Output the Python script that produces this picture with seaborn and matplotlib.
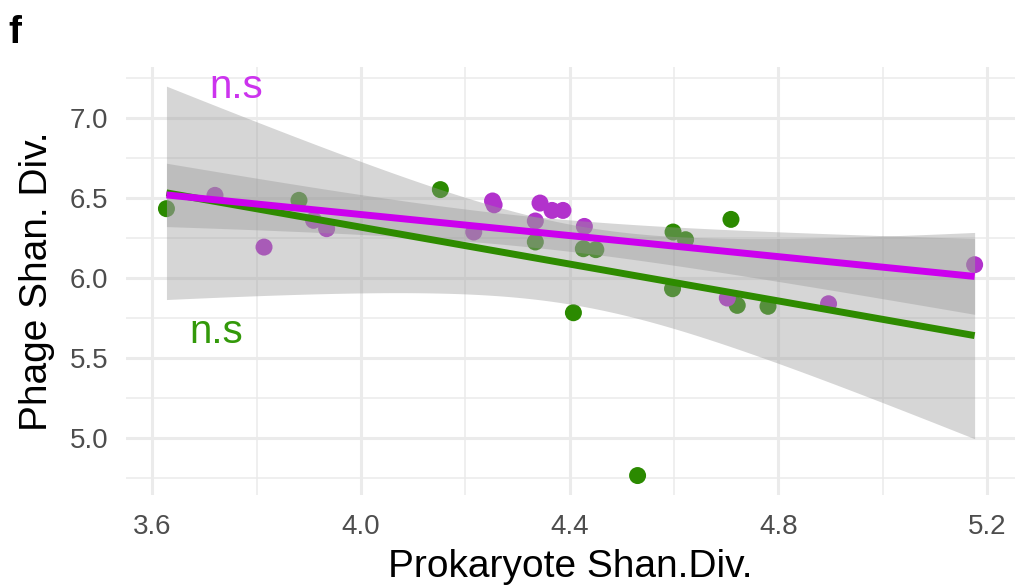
import math
import numpy as np
import pandas as pd
import matplotlib
matplotlib.use("Agg")
import matplotlib.pyplot as plt
import seaborn as sns

# Prokaryote vs phage Shannon diversity, two sample groups
green_x = [3.627, 3.881, 4.152, 4.334, 4.407, 4.426, 4.450, 4.530, 4.597,
           4.598, 4.622, 4.709, 4.721, 4.780]
green_y = [6.431, 6.483, 6.550, 6.223, 5.781, 6.181, 6.175, 4.764, 5.931,
           6.285, 6.237, 6.364, 5.827, 5.821]
purple_x = [3.720, 3.814, 3.909, 3.934, 4.216, 4.252, 4.255, 4.334, 4.343,
            4.366, 4.387, 4.428, 4.702, 4.896, 5.176]
purple_y = [6.514, 6.191, 6.358, 6.306, 6.285, 6.479, 6.455, 6.354, 6.466,
            6.420, 6.420, 6.320, 5.873, 5.837, 6.081]

x_ticks = [3.6, 4.0, 4.4, 4.8, 5.2]
y_ticks = [5.0, 5.5, 6.0, 6.5, 7.0]
sig_labels = ["n.s", "n.s"]

GREEN_LINE = "#2E8B00"
GREEN_PT = "#2B8A00"
PURPLE_LINE = "#CC00EE"
PURPLE_PT = "#B232CC"
GREEN_TXT = "#33990A"
PURPLE_TXT = "#CC33EE"

df = pd.DataFrame({
    "x": green_x + purple_x,
    "y": green_y + purple_y,
    "grp": ["g"] * len(green_x) + ["p"] * len(purple_x),
})


def t_quantile(p, dof):
    grid = np.linspace(0.0, 60.0, 300001)
    c = math.gamma((dof + 1) / 2) / (math.sqrt(dof * math.pi) * math.gamma(dof / 2))
    pdf = c * (1 + grid ** 2 / dof) ** (-(dof + 1) / 2)
    cdf = 0.5 + np.concatenate([[0.0], np.cumsum((pdf[1:] + pdf[:-1]) / 2 * np.diff(grid))])
    return float(np.interp(p, cdf, grid))


def lm_band(x, y, xs, level=0.95):
    x = np.asarray(x)
    y = np.asarray(y)
    n = len(x)
    slope, icpt = np.polyfit(x, y, 1)
    resid = y - (icpt + slope * x)
    sigma = math.sqrt(np.sum(resid ** 2) / (n - 2))
    sxx = np.sum((x - x.mean()) ** 2)
    se = sigma * np.sqrt(1 / n + (xs - x.mean()) ** 2 / sxx)
    t = t_quantile(0.5 + level / 2, n - 2)
    fit = icpt + slope * xs
    return fit, fit - t * se, fit + t * se


plt.rcParams["font.family"] = ["Liberation Sans", "DejaVu Sans"]

fig = plt.figure(figsize=(10.19, 5.87), dpi=100)
ax = fig.add_axes([0.1237, 0.1567, 0.8724, 0.7297])
ax.set_facecolor("white")

# full-range fits across the combined x range
xs = np.linspace(min(df["x"]), max(df["x"]), 200)
g_fit, g_lo, g_hi = lm_band(green_x, green_y, xs)
p_fit, p_lo, p_hi = lm_band(purple_x, purple_y, xs)

sns.scatterplot(data=df, x="x", y="y", hue="grp",
                palette={"g": GREEN_PT, "p": PURPLE_PT},
                s=150, linewidth=0, legend=False, ax=ax, zorder=2)

ax.fill_between(xs, g_lo, g_hi, color="#999999", alpha=0.4, linewidth=0, zorder=3)
ax.fill_between(xs, p_lo, p_hi, color="#999999", alpha=0.4, linewidth=0, zorder=3)
ax.plot(xs, g_fit, color=GREEN_LINE, linewidth=5, solid_capstyle="butt", zorder=4)
ax.plot(xs, p_fit, color=PURPLE_LINE, linewidth=5, solid_capstyle="butt", zorder=4)

# limits: data range plus 5% on each side
x0, x1 = min(df["x"]), max(df["x"])
ax.set_xlim(x0 - 0.05 * (x1 - x0), x1 + 0.05 * (x1 - x0))
y0 = min(min(df["y"]), g_lo.min(), p_lo.min())
y1 = max(max(df["y"]), g_hi.max(), p_hi.max())
ax.set_ylim(y0 - 0.05 * (y1 - y0), y1 + 0.05 * (y1 - y0))

ax.set_xticks(x_ticks)
ax.set_xticklabels([f"{v:.1f}" for v in x_ticks])
ax.set_yticks(y_ticks)
ax.set_yticklabels([f"{v:.1f}" for v in y_ticks])
ax.set_xticks([3.8, 4.2, 4.6, 5.0], minor=True)
ax.set_yticks([4.75, 5.25, 5.75, 6.25, 6.75, 7.25], minor=True)

ax.grid(True, which="major", color="#EBEBEB", linewidth=2.2, zorder=0)
ax.grid(True, which="minor", color="#EBEBEB", linewidth=1.1, zorder=0)
ax.set_axisbelow(True)
for sp in ax.spines.values():
    sp.set_visible(False)
ax.tick_params(which="both", length=0)
ax.tick_params(axis="x", which="major", labelsize=20, labelcolor="#4D4D4D", pad=14)
ax.tick_params(axis="y", which="major", labelsize=20, labelcolor="#4D4D4D", pad=13)

ax.set_xlabel("Prokaryote Shan.Div.", fontsize=28, color="black", labelpad=6)
ax.set_ylabel("Phage Shan. Div.", fontsize=28, color="black", labelpad=10)

ax.text(3.760, 7.125, sig_labels[0], color=PURPLE_TXT, fontsize=29,
        ha="center", va="baseline", zorder=5)
ax.text(3.722, 5.591, sig_labels[1], color=GREEN_TXT, fontsize=29,
        ha="center", va="baseline", zorder=5)

fig.text(0.008, 1 - 43 / 587, "f", fontsize=28, fontweight="bold",
         ha="left", va="baseline")

fig.savefig("out.png", dpi=100, facecolor="white")
